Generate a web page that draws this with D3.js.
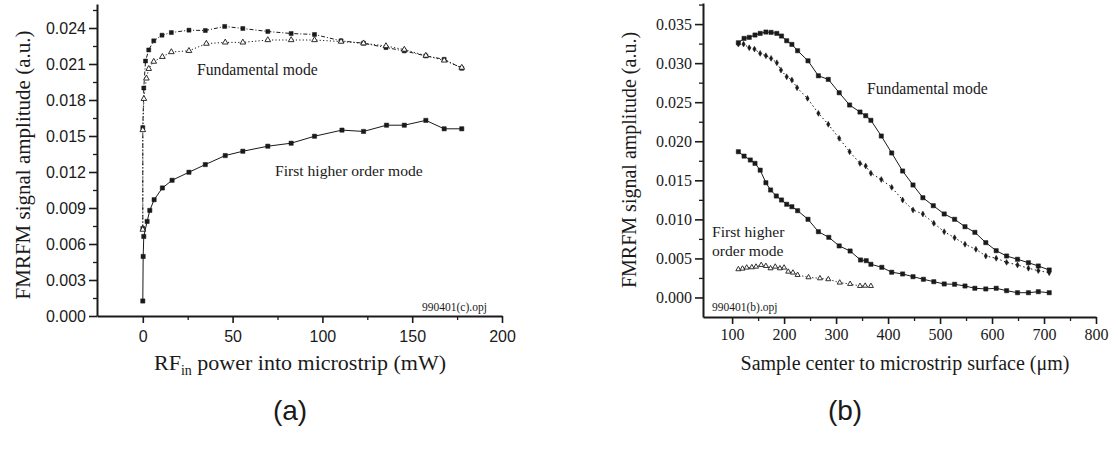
<!DOCTYPE html>
<html>
<head>
<meta charset="utf-8">
<script src="https://cdn.jsdelivr.net/npm/d3@7"></script>
<style>
  html, body { margin: 0; padding: 0; background: #fff; }
  svg { display: block; }
</style>
</head>
<body>
<svg id="chart" width="1118" height="452"></svg>
<script>
// ---------- Panel (a) data ----------
const aFundSqX = [0, 0, 0.55, 1.5, 3.3, 6.1, 10.7, 15.9, 25.7, 34.8, 45.6, 55.7, 69.6, 82.6, 95.6, 110.4, 122.9, 135.4, 145.6, 157.6, 167.8, 177.6];
const aFundSqY = [0.0073, 0.0157, 0.0190, 0.02125, 0.02217, 0.02293, 0.0234, 0.02362, 0.02382, 0.02379, 0.02413, 0.02396, 0.02371, 0.02354, 0.02346, 0.02293, 0.02273, 0.02237, 0.02209, 0.02167, 0.02139, 0.02064];
const aFundTriX = [0, 0, 0.6, 2, 3.3, 6.1, 10.9, 15.9, 25.7, 35.4, 45.9, 55.7, 69.6, 82.6, 95.6, 110.4, 122.9, 135.4, 145.6, 157.6, 167.8, 177.6];
const aFundTriY = [0.0072, 0.0155, 0.0181, 0.0198, 0.0206, 0.0212, 0.0216, 0.0220, 0.0221, 0.0227, 0.0228, 0.0228, 0.0230, 0.0230, 0.0230, 0.02287, 0.02273, 0.0225, 0.0222, 0.0217, 0.0213, 0.0207];
const aHighX = [0, 0.2, 0.55, 2.4, 3.9, 6.3, 10.9, 16.3, 25.7, 34.8, 45.9, 55.7, 69.6, 82.6, 95.6, 110.9, 122.9, 135.7, 145.6, 157.6, 167.8, 177.6];
const aHighY = [0.00125, 0.00496, 0.00663, 0.00788, 0.0088, 0.00969, 0.01067, 0.01131, 0.01198, 0.01262, 0.01337, 0.01373, 0.01415, 0.0144, 0.01498, 0.01549, 0.01538, 0.0159, 0.0159, 0.0163, 0.0156, 0.0156];
const aXTicks = [0, 50, 100, 150, 200];
const aYTicks = [0.000, 0.003, 0.006, 0.009, 0.012, 0.015, 0.018, 0.021, 0.024];

// ---------- Panel (b) data ----------
const bFundSolidX = [112,123,133,144,154,165,175,186,195,205,215,226,246,266,285,306,326,346,357,367,387,407,428,448,467,487,508,528,548,567,588,608,628,649,670,689,710];
const bFundSolidY = [0.03261,0.03317,0.0333,0.0336,0.03381,0.03398,0.03394,0.03381,0.03347,0.03287,0.0324,0.03159,0.0303,0.02838,0.02792,0.02621,0.02464,0.02374,0.02327,0.02268,0.02067,0.0185,0.01619,0.0144,0.01277,0.01175,0.01069,0.01001,0.00906,0.00834,0.00702,0.00599,0.00531,0.00489,0.00445,0.00403,0.00352];
const bFundDotX = [112,122,133,143,154,165,175,186,194,205,215,225,245,266,285,306,326,346,357,367,387,407,428,448,467,488,508,528,548,569,588,608,628,649,670,689,710];
const bFundDotY = [0.03244,0.03244,0.03197,0.0318,0.03125,0.03095,0.03061,0.03005,0.02911,0.02826,0.02784,0.02685,0.02549,0.02357,0.02217,0.02037,0.01866,0.01717,0.01683,0.0159,0.0151,0.0141,0.01248,0.0112,0.01069,0.0095,0.00842,0.00765,0.00681,0.00617,0.00531,0.00502,0.0045,0.00416,0.00374,0.00343,0.00317];
const bHighSolidX = [112,123,135,144,154,165,174,185,195,205,215,226,246,266,286,306,327,347,358,367,388,407,428,448,468,488,508,528,548,567,588,608,628,649,670,689,710];
const bHighSolidY = [0.01866,0.0181,0.0176,0.01717,0.0163,0.01469,0.01376,0.01299,0.01248,0.01193,0.01162,0.01111,0.01001,0.00842,0.0077,0.0066,0.00595,0.0048,0.00471,0.00425,0.00386,0.00323,0.00301,0.00266,0.00233,0.00202,0.00173,0.00169,0.00147,0.00118,0.00109,0.00118,0.00087,0.00061,0.00061,0.00074,0.00061];
const bHighTriX = [112,120,128,138,146,156,165,174,183,192,200,208,217,226,247,269,285,307,327,346,356,367];
const bHighTriY = [0.00361,0.00369,0.00382,0.00386,0.00394,0.00416,0.00403,0.00373,0.00394,0.00373,0.00382,0.0033,0.00318,0.00288,0.00258,0.00245,0.00233,0.0019,0.00173,0.00147,0.0015,0.00147];
const bXTicks = [100, 200, 300, 400, 500, 600, 700, 800];
const bYTicks = [0.000, 0.005, 0.010, 0.015, 0.020, 0.025, 0.030, 0.035];

// ---------- drawing ----------
const svg = d3.select("#chart");
const ink = "#1a1a1a";
const serif = "'Liberation Serif', 'Times New Roman', serif";
const sans = "'Liberation Sans', Arial, sans-serif";

function zip(xs, ys) { return xs.map((x, i) => ({x: x, y: ys[i]})); }

function drawAxes(g, x, y, xTicks, xMinor, yTicks, yMinor, yFmt, tickFont, tickSize, xPad) {
  g.append("g").attr("transform", `translate(0,${y.range()[0]})`)
    .call(d3.axisBottom(x).tickValues(xMinor).tickSize(4).tickFormat(""))
    .call(s => { s.select(".domain").remove(); s.selectAll("line").attr("stroke", ink).attr("stroke-width", 1.3); });
  g.append("g").attr("transform", `translate(${x.range()[0]},0)`)
    .call(d3.axisLeft(y).tickValues(yMinor).tickSize(4).tickFormat(""))
    .call(s => { s.select(".domain").remove(); s.selectAll("line").attr("stroke", ink).attr("stroke-width", 1.3); });
  const xa = g.append("g").attr("transform", `translate(0,${y.range()[0]})`)
    .call(d3.axisBottom(x).tickValues(xTicks).tickSize(7).tickSizeOuter(0).tickPadding(xPad).tickFormat(d3.format("d")));
  xa.select(".domain").attr("stroke", ink).attr("stroke-width", 2);
  xa.selectAll(".tick line").attr("stroke", ink).attr("stroke-width", 1.6);
  xa.selectAll("text").attr("fill", ink).style("font-family", tickFont).style("font-size", tickSize + "px");
  const ya = g.append("g").attr("transform", `translate(${x.range()[0]},0)`)
    .call(d3.axisLeft(y).tickValues(yTicks).tickSize(8).tickSizeOuter(0).tickPadding(3).tickFormat(yFmt));
  ya.select(".domain").attr("stroke", ink).attr("stroke-width", 2);
  ya.selectAll(".tick line").attr("stroke", ink).attr("stroke-width", 1.6);
  ya.selectAll("text").attr("fill", ink).style("font-family", tickFont).style("font-size", tickSize + "px");
}

function drawSeries(g, x, y, data, dash, marker, size) {
  const line = d3.line().x(d => x(d.x)).y(d => y(d.y));
  g.append("path").datum(data).attr("d", line)
    .attr("fill", "none").attr("stroke", ink).attr("stroke-width", 1)
    .attr("stroke-dasharray", dash);
  const sym = d3.symbol().type(marker).size(size);
  const open = marker === d3.symbolTriangle;
  g.selectAll(null).data(data).enter().append("path")
    .attr("d", sym)
    .attr("transform", d => `translate(${x(d.x)},${y(d.y)})`)
    .attr("fill", open ? "#fff" : ink)
    .attr("stroke", ink).attr("stroke-width", open ? 0.9 : 0.5);
}

// ----- Panel (a) -----
const xA = d3.scaleLinear().domain([-25.5, 200]).range([97, 502]);
const yA = d3.scaleLinear().domain([0, 0.026]).range([316, 4]);
const gA = svg.append("g");
const xMinorA = [25, 75, 125, 175];
const yMinorA = d3.range(0.0015, 0.0259, 0.003);
drawAxes(gA, xA, yA, aXTicks, xMinorA, aYTicks, yMinorA, d3.format(".3f"), sans, 16, 8);

drawSeries(gA, xA, yA, zip(aFundSqX, aFundSqY), "4,2,1,2", d3.symbolSquare, 16);
drawSeries(gA, xA, yA, zip(aFundTriX, aFundTriY), "1.2,2.2", d3.symbolTriangle, 14);
drawSeries(gA, xA, yA, zip(aHighX, aHighY), null, d3.symbolSquare, 18);

gA.append("text").attr("x", 197).attr("y", 75).text("Fundamental mode")
  .style("font-family", serif).style("font-size", "15.7px").attr("fill", ink);
gA.append("text").attr("x", 275).attr("y", 176).text("First higher order mode")
  .style("font-family", serif).style("font-size", "15.6px").attr("fill", ink);
gA.append("text").attr("x", 422).attr("y", 311).text("990401(c).opj")
  .style("font-family", serif).style("font-size", "11.5px").attr("fill", ink);

gA.append("text").attr("transform", "translate(30,165) rotate(-90)")
  .attr("text-anchor", "middle").text("FMRFM signal amplitude (a.u.)")
  .style("font-family", serif).style("font-size", "21px").attr("fill", ink);
const tA = gA.append("text").attr("x", 300).attr("y", 370).attr("text-anchor", "middle")
  .style("font-family", serif).style("font-size", "22px").attr("fill", ink);
tA.append("tspan").text("RF");
tA.append("tspan").text("in").attr("dy", 5).style("font-size", "14px");
tA.append("tspan").text(" power into microstrip (mW)").attr("dy", -5);
gA.append("text").attr("x", 290).attr("y", 420).attr("text-anchor", "middle").text("(a)")
  .style("font-family", sans).style("font-size", "28px").attr("fill", ink);

// ----- Panel (b) -----
const xB = d3.scaleLinear().domain([44, 800]).range([703, 1096]);
const yB = d3.scaleLinear().domain([-0.0025, 0.0377]).range([317, 3]);
const gB = svg.append("g");
const xMinorB = [150, 250, 350, 450, 550, 650, 750];
const yMinorB = d3.range(0.0025, 0.0376, 0.005);
drawAxes(gB, xB, yB, bXTicks, xMinorB, bYTicks, yMinorB, d3.format(".3f"), serif, 16, 5);

drawSeries(gB, xB, yB, zip(bFundSolidX, bFundSolidY), null, d3.symbolSquare, 18);
drawSeries(gB, xB, yB, zip(bFundDotX, bFundDotY), "1.5,2.5", d3.symbolDiamond, 10);
drawSeries(gB, xB, yB, zip(bHighSolidX, bHighSolidY), null, d3.symbolSquare, 18);
drawSeries(gB, xB, yB, zip(bHighTriX, bHighTriY), "1.2,2.2", d3.symbolTriangle, 11);

gB.append("text").attr("x", 867).attr("y", 94).text("Fundamental mode")
  .style("font-family", serif).style("font-size", "15.7px").attr("fill", ink);
gB.append("text").attr("x", 712).attr("y", 237).text("First higher")
  .style("font-family", serif).style("font-size", "15.6px").attr("fill", ink);
gB.append("text").attr("x", 712).attr("y", 256).text("order mode")
  .style("font-family", serif).style("font-size", "15.6px").attr("fill", ink);
gB.append("text").attr("x", 712).attr("y", 311).text("990401(b).opj")
  .style("font-family", serif).style("font-size", "11.5px").attr("fill", ink);

gB.append("text").attr("transform", "translate(636,160) rotate(-90)")
  .attr("text-anchor", "middle").text("FMRFM signal amplitude (a.u.)")
  .style("font-family", serif).style("font-size", "20px").attr("fill", ink);
gB.append("text").attr("x", 905).attr("y", 370).attr("text-anchor", "middle")
  .text("Sample center to microstrip surface (\u03bcm)")
  .style("font-family", serif).style("font-size", "20px").attr("fill", ink);
gB.append("text").attr("x", 845).attr("y", 420).attr("text-anchor", "middle").text("(b)")
  .style("font-family", sans).style("font-size", "28px").attr("fill", ink);
</script>
</body>
</html>
